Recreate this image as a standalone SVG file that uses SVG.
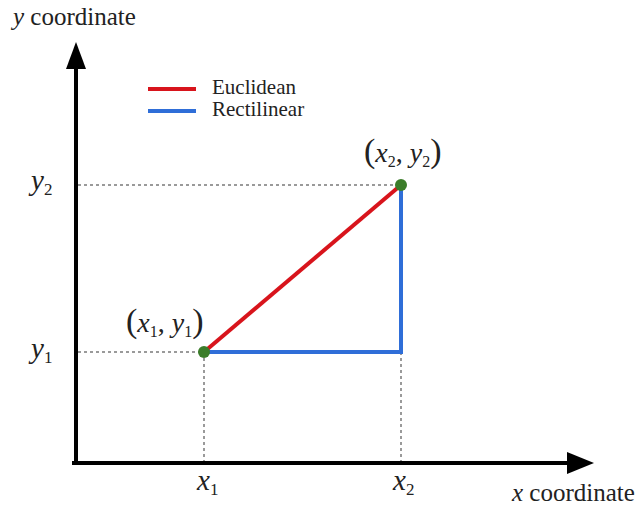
<svg xmlns="http://www.w3.org/2000/svg" width="639" height="506" viewBox="0 0 639 506">
<style>
.axis{stroke:#000;stroke-width:4;fill:none}
.dot{stroke:#9a9a9a;stroke-width:2;stroke-dasharray:3,3;fill:none}
.red{stroke:#d8141c;stroke-width:4;fill:none}
.blue{stroke:#2f6ed8;stroke-width:4;fill:none}
.pt{fill:#3b7d2a}
</style>
<rect width="639" height="506" fill="#fff"/>
<g id="guides">
<path class="dot" d="M78 352H204M78 185H401M204 352V461M401 352V461"/>
</g>
<g id="axes">
<path class="axis" d="M76 465V64M72 463H570"/>
<polygon points="76,42 66,69 86,69" fill="#000"/>
<polygon points="594,463 567,452 567,474" fill="#000"/>
</g>
<g id="connectors">
<path class="red" d="M204 352L401 185"/>
<path class="blue" d="M204 352H401V185"/>
</g>
<g id="p1"><circle class="pt" cx="204" cy="352" r="6"/></g>
<g id="p2"><circle class="pt" cx="401" cy="185" r="6"/></g>
<g id="legend">
<line class="red" x1="148" y1="89" x2="196" y2="89"/>
<line class="blue" x1="148" y1="111" x2="196" y2="111"/>
<g font-family="Liberation Serif, serif" font-size="21" fill="#222">
<text x="212" y="94">Euclidean</text>
<text x="212" y="116">Rectilinear</text>
</g>
</g>
<g id="labels" font-family="Liberation Serif, serif" fill="#222">
<text font-size="25" x="13" y="25"><tspan font-style="italic">y</tspan> coordinate</text>
<text font-size="25" x="512" y="501"><tspan font-style="italic">x</tspan> coordinate</text>
<text font-size="29" x="31" y="190"><tspan font-style="italic">y</tspan><tspan font-size="17" dy="5">2</tspan></text>
<text font-size="29" x="31" y="358"><tspan font-style="italic">y</tspan><tspan font-size="17" dy="5">1</tspan></text>
<text font-size="29" x="197" y="490"><tspan font-style="italic">x</tspan><tspan font-size="17" dy="5">1</tspan></text>
<text font-size="29" x="393" y="490"><tspan font-style="italic">x</tspan><tspan font-size="17" dy="5">2</tspan></text>
<text font-size="28" x="364" y="162"><tspan font-size="34">(</tspan><tspan font-style="italic">x</tspan><tspan font-size="16" dy="5">2</tspan><tspan dy="-5">, </tspan><tspan font-style="italic">y</tspan><tspan font-size="16" dy="5">2</tspan><tspan font-size="34" dy="-5">)</tspan></text>
<text font-size="28" x="126" y="332"><tspan font-size="34">(</tspan><tspan font-style="italic">x</tspan><tspan font-size="16" dy="5">1</tspan><tspan dy="-5">, </tspan><tspan font-style="italic">y</tspan><tspan font-size="16" dy="5">1</tspan><tspan font-size="34" dy="-5">)</tspan></text>
</g>
</svg>
